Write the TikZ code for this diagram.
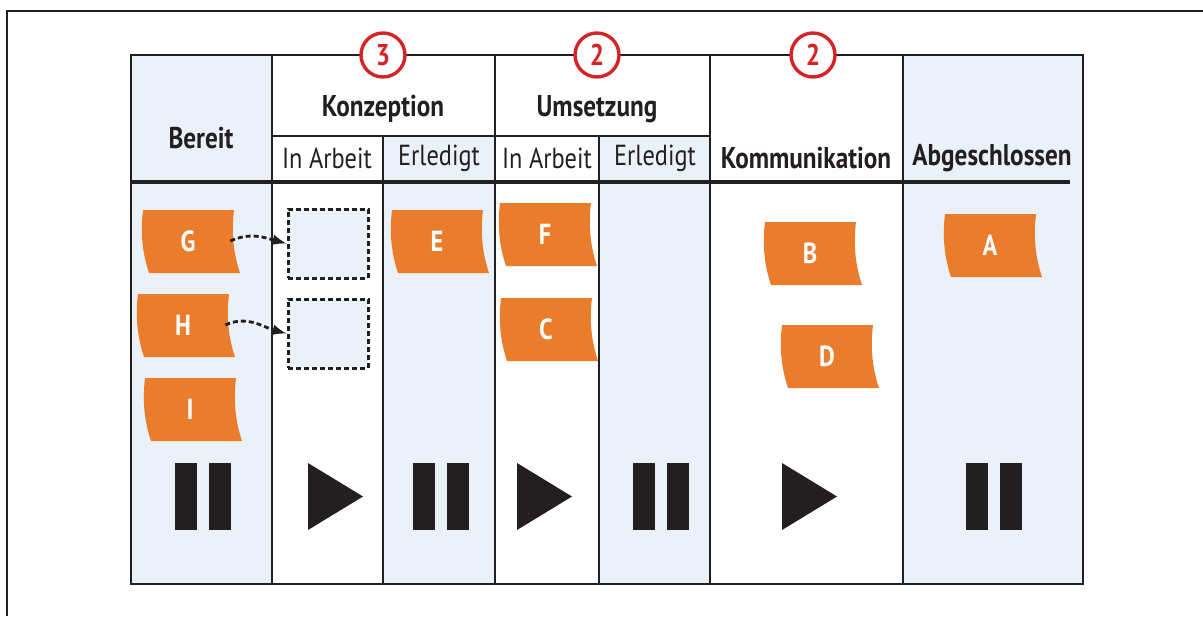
\documentclass[tikz,border=0pt]{standalone}
\usepackage{fontspec}
\setmainfont[FakeStretch=0.84]{PT Sans}
\usepackage{xcolor}
\usetikzlibrary{arrows}
\definecolor{lightblue}{RGB}{234,241,248}
\definecolor{cardorange}{RGB}{233,125,44}
\definecolor{wipred}{RGB}{213,36,40}
\definecolor{ink}{RGB}{35,31,32}

% card: name, left, top, letter
\newcommand{\kcard}[4]{%
\begin{scope}[shift={(#2,#3)}]
\fill[cardorange] (0,0) -- (91,0) .. controls (88,25) and (91,45) .. (97,63)
  -- (6,63) .. controls (0,45) and (-3,25) .. (0,0) -- cycle;
\node[cardtxt] (#1) at (45,31) {#4};
\end{scope}}

\begin{document}
\begin{tikzpicture}[x=0.5pt,y=-0.5pt,
  frame/.style={line width=1.1pt,color=ink},
  head/.style={text=ink,font=\fontsize{15}{17}\selectfont\bfseries},
  sub/.style={text=ink,font=\fontsize{14.5}{16}\selectfont},
  cardtxt/.style={text=white,font=\fontsize{14.5}{16}\selectfont\bfseries,minimum width=42pt,inner sep=0pt},
  wip/.style={circle,draw=wipred,line width=1.7pt,fill=white,text=wipred,minimum size=22pt,inner sep=0pt,font=\fontsize{15}{17}\selectfont\bfseries},
  slot/.style={draw=ink,dash pattern=on 2.5pt off 1.5pt,line width=1.5pt,fill=lightblue,minimum width=40pt,minimum height=34.5pt,inner sep=0pt},
  pull/.style={-latex,dash pattern=on 2.5pt off 1.5pt,line width=1.4pt,color=ink}]
\useasboundingbox (0,0) rectangle (1203,616);

\draw[line width=0.8pt,color=ink] (7,616) -- (7,11) -- (1203,11);

% columns
\fill[lightblue] (131,55) rectangle (272,584);
\fill[lightblue] (383,136) rectangle (495,584);
\fill[lightblue] (599,136) rectangle (710,584);
\fill[lightblue] (903,55) rectangle (1083,584);

\draw[frame] (131,55) rectangle (1083,584);
\draw[frame] (272,55) -- (272,584);
\draw[frame] (495,55) -- (495,584);
\draw[frame] (710,55) -- (710,584);
\draw[frame] (903,55) -- (903,584);
\draw[frame] (383,136) -- (383,584);
\draw[frame] (599,136) -- (599,584);
\draw[frame] (272,136) -- (710,136);
\draw[line width=1.6pt,color=ink] (131,182) -- (1070,182);

\node[head] (bereit) at (201,138) {Bereit};
\node[head] (konz) at (383,109) {Konzeption};
\node[head] (umset) at (597,109) {Umsetzung};
\node[sub] (konzArb) at (327,158) {In Arbeit};
\node[sub] (konzErl) at (439,158) {Erledigt};
\node[sub] (umsetArb) at (547,158) {In Arbeit};
\node[sub] (umsetErl) at (655,158) {Erledigt};
\node[head] (komm) at (806,158) {Kommunikation};
\node[head] (abg) at (992,158) {Abgeschlossen};

\node[wip] (wipKonz) at (383,55) {3};
\node[wip] (wipUmset) at (597,55) {2};
\node[wip] (wipKomm) at (813,55) {2};

% cards
\kcard{G}{143}{210}{G}
\kcard{H}{138}{294}{H}
\kcard{I}{145}{378}{I}
\kcard{E}{392}{210}{E}
\kcard{F}{500}{203}{F}
\kcard{C}{501}{298}{C}
\kcard{B}{765}{222}{B}
\kcard{D}{782}{325}{D}
\kcard{A}{945}{214}{A}

\node[slot] (slotG) at (328,243.5) {};
\node[slot] (slotH) at (328,333.5) {};
\draw[pull] (G.east) to[out=25,in=165] (slotG.west);
\draw[pull] (H.east) to[out=25,in=165] (slotH.west);

% pause / play
\foreach \x in {175,413,633,966}{
  \fill[ink] (\x,463) rectangle +(22,67);
  \fill[ink] (\x+34,463) rectangle +(22,67);
}
\foreach \x in {308,517,782}{
  \fill[ink] (\x,463) -- (\x+55,496.5) -- (\x,530) -- cycle;
}
\end{tikzpicture}
\end{document}
